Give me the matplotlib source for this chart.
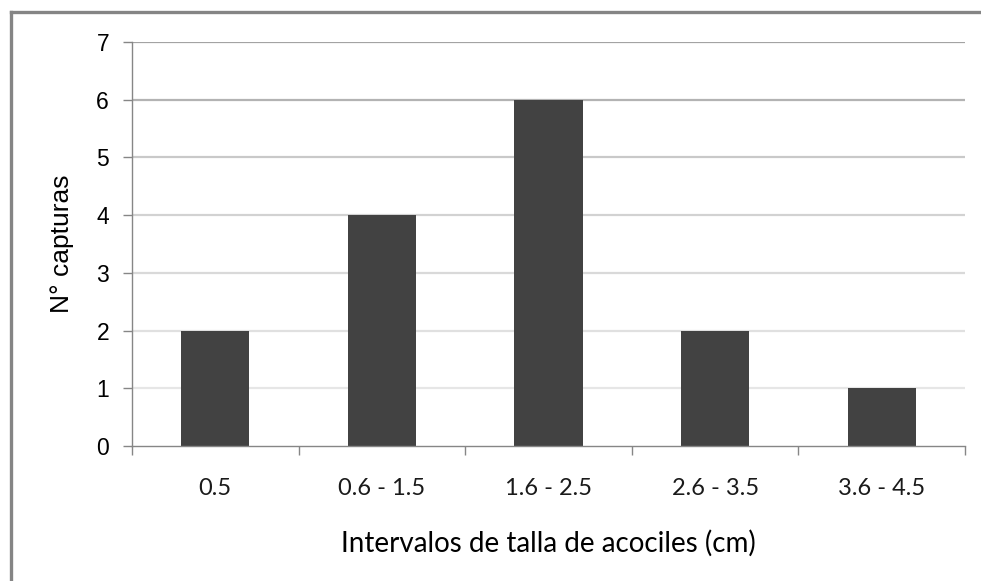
import matplotlib.pyplot as plt
from matplotlib.lines import Line2D
import numpy as np

# capture counts per crayfish size interval
categories = ["0.5", "0.6 - 1.5", "1.6 - 2.5", "2.6 - 3.5", "3.6 - 4.5"]
captures = [2, 4, 6, 2, 1]
y_ticks = [0, 1, 2, 3, 4, 5, 6, 7]

fig = plt.figure(figsize=(9.81, 5.81), dpi=100)
ax = fig.add_axes([132 / 981, 1 - 446 / 581, 833 / 981, 404 / 581])

x = np.arange(len(categories))

# gridlines fade from top to bottom
grid_colors = {1: "#e6e6e6", 2: "#e0e0e0", 3: "#d9d9d9", 4: "#d2d2d2",
               5: "#c9c9c9", 6: "#b3b3b3", 7: "#a3a3a3"}
for v, c in grid_colors.items():
    ax.axhline(v, color=c, lw=1.6, zorder=0)

ax.bar(x, captures, width=0.41, color="#424242", zorder=2)

ax.set_xlim(-0.5, len(categories) - 0.5)
ax.set_ylim(0, 7)
ax.set_yticks(y_ticks)
ax.set_xticks(x)
ax.set_xticklabels(categories, fontsize=17, family="Lato", color="#1a1a1a")
ax.set_xticks(np.arange(-0.5, len(categories)), minor=True)
ax.tick_params(axis="x", which="major", length=0, pad=23)
ax.tick_params(axis="x", which="minor", length=6.5, width=1, color="#868686", direction="out")
ax.tick_params(axis="y", length=6.5, width=1, color="#868686", direction="out",
               labelsize=16.5, pad=10)
for lbl in ax.get_yticklabels():
    lbl.set_family("Liberation Sans")

for side in ("top", "right"):
    ax.spines[side].set_visible(False)
for side in ("left", "bottom"):
    ax.spines[side].set_color("#868686")
    ax.spines[side].set_linewidth(1)

ax.set_xlabel("Intervalos de talla de acociles (cm)", fontsize=20, family="Lato",
              va="center")
ax.xaxis.set_label_coords(0.5, (446 - 543) / 404)
ax.set_ylabel("N° capturas", fontsize=19, family="Liberation Sans", va="center")
ax.yaxis.set_label_coords((62 - 132) / 833, 0.5)

# outer frame (left and top edges)
fx = 11 / 981
fy = 1 - 12 / 581
fig.add_artist(Line2D([fx, fx], [0, fy], transform=fig.transFigure, color="#858585", lw=2.4))
fig.add_artist(Line2D([fx, 1], [fy, fy], transform=fig.transFigure, color="#858585", lw=2.4))

fig.savefig("out.png", dpi=100)
